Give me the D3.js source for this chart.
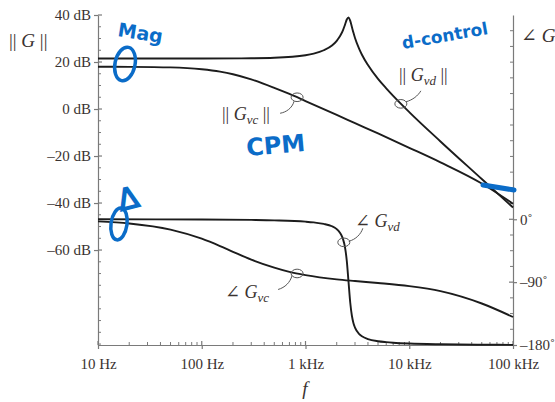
<!DOCTYPE html>
<html><head><meta charset="utf-8">
<script src="https://cdn.jsdelivr.net/npm/d3@7"></script>
<style>
body{margin:0;background:#fff}
svg{display:block}
text{font-family:"Liberation Serif","DejaVu Serif",serif;fill:#3a3230}
.hand{font-family:"DejaVu Sans",sans-serif;font-weight:bold;fill:#0b6cc8}
</style></head><body>
<svg id="c" width="555" height="402"></svg>
<script>
// ---- tick labels ----
const freqTicks = [10, 100, 1000, 10000, 100000];
const freqTickLabels = ["10 Hz", "100 Hz", "1 kHz", "10 kHz", "100 kHz"];
const magTicks = [40, 20, 0, -20, -40, -60];
const magTickLabels = ["40 dB", "20 dB", "0 dB", "–20 dB", "–40 dB", "–60 dB"];
const phaseTicks = [0, -90, -180];
const phaseTickLabels = ["0˚", "–90˚", "–180˚"];

// ---- ||Gvd|| and ∠Gvd (duty-cycle control) ----
const freqVd = [10, 100, 300, 500, 1000, 1200, 1500, 1800, 2000, 2100, 2200, 2300, 2400, 2500, 2600, 2700, 2800, 2900, 3000, 3300, 3500, 4000, 5000, 6000, 7000, 10000, 20000, 50000, 100000];
const magVd = [21.5, 21.5, 21.6, 21.8, 22.9, 23.6, 25.0, 27.0, 29.0, 30.3, 31.8, 33.6, 35.8, 38.1, 39.0, 37.5, 34.9, 32.4, 30.2, 25.5, 23.1, 18.7, 12.8, 8.8, 5.6, -1.3, -13.8, -29.8, -41.9];
const phaseVd = [0, -0.3, -0.9, -1.5, -3.4, -4.5, -6.6, -10.0, -14.1, -17.2, -21.7, -28.5, -39.7, -59.5, -90, -119.5, -138.1, -148.7, -155.1, -164.5, -167.5, -171.5, -174.6, -175.9, -176.7, -177.9, -179.0, -179.6, -179.8];

// ---- ||Gvc|| and ∠Gvc (current-programmed mode) ----
const freqVc = [10, 20, 50, 100, 150, 200, 300, 500, 700, 1000, 2000, 3000, 5000, 10000, 20000, 50000, 100000];
const magVc = [18.0, 17.95, 17.7, 16.9, 15.9, 14.8, 12.6, 9.0, 6.4, 3.4, -2.5, -6.0, -10.4, -16.5, -22.7, -31.7, -40.3];
const phaseVc = [-3.0, -6.0, -14.7, -27.8, -38.3, -46.5, -57.7, -69.2, -75.3, -79.9, -86.0, -88.4, -91.2, -95.7, -102.9, -120.6, -139.9];

const svg = d3.select("#c");
const axisCol = "#7a7a7a";
const x = d3.scaleLog().domain([10, 100000]).range([98, 513]);
const yMag = d3.scaleLinear().domain([-100.4, 40]).range([345, 15]);
const yPh = d3.scaleLinear().domain([-180, 292.5]).range([345, 15]);

function styleAxis(g){
  g.attr("font-size", null).attr("font-family", null);
  g.selectAll(".domain").attr("stroke", axisCol).attr("stroke-width", 1.2);
  g.selectAll(".tick line").attr("stroke", axisCol).attr("stroke-width", 1.2);
  g.selectAll(".tick text").attr("fill", "#3a3230")
    .style("font-family", '"Liberation Serif","DejaVu Serif",serif').style("font-size", "15px");
}

// bottom axis
const gx = svg.append("g").attr("transform", "translate(0,345)")
  .call(d3.axisBottom(x).tickValues(freqTicks).tickFormat((d, i) => freqTickLabels[i]).tickSize(4).tickSizeOuter(0).tickPadding(9));
styleAxis(gx);
const minorF = [];
freqTicks.slice(0, -1).forEach(d => { for (let k = 2; k <= 9; k++) minorF.push(d * k); });
svg.append("g").selectAll("line").data(minorF).join("line")
  .attr("x1", d => x(d)).attr("x2", d => x(d)).attr("y1", 345).attr("y2", 342)
  .attr("stroke", axisCol).attr("stroke-width", 1);
svg.append("g").selectAll("line").data(freqTicks).join("line")
  .attr("x1", d => x(d)).attr("x2", d => x(d)).attr("y1", 345).attr("y2", 341)
  .attr("stroke", axisCol).attr("stroke-width", 1.2);

// left axis
const gy = svg.append("g").attr("transform", "translate(98,0)")
  .call(d3.axisLeft(yMag).tickValues(magTicks).tickFormat((d, i) => magTickLabels[i]).tickSize(4).tickSizeOuter(0).tickPadding(3));
styleAxis(gy);
const minorM = d3.range(-100, 41, 5).filter(v => !magTicks.includes(v));
svg.append("g").selectAll("line").data(minorM).join("line")
  .attr("x1", 98).attr("x2", 101).attr("y1", d => yMag(d)).attr("y2", d => yMag(d))
  .attr("stroke", axisCol).attr("stroke-width", 1);
svg.append("g").selectAll("line").data(magTicks).join("line")
  .attr("x1", 98).attr("x2", 102).attr("y1", d => yMag(d)).attr("y2", d => yMag(d))
  .attr("stroke", axisCol).attr("stroke-width", 1.2);

// right axis
const gr = svg.append("g").attr("transform", "translate(513,0)")
  .call(d3.axisRight(yPh).tickValues(phaseTicks).tickFormat((d, i) => phaseTickLabels[i]).tickSize(4).tickSizeOuter(0).tickPadding(3));
styleAxis(gr);
const minorP = d3.range(-180, 271, 22.5).filter(v => !phaseTicks.includes(v));
svg.append("g").selectAll("line").data(minorP).join("line")
  .attr("x1", 513).attr("x2", 510).attr("y1", d => yPh(d)).attr("y2", d => yPh(d))
  .attr("stroke", axisCol).attr("stroke-width", 1);
svg.append("g").selectAll("line").data(phaseTicks).join("line")
  .attr("x1", 513).attr("x2", 509).attr("y1", d => yPh(d)).attr("y2", d => yPh(d))
  .attr("stroke", axisCol).attr("stroke-width", 1.2);

// axis titles
const tl = svg.append("text").attr("x", 9).attr("y", 47).style("font-size", "19px");
tl.append("tspan").text("|| ");
tl.append("tspan").style("font-style", "italic").text("G");
tl.append("tspan").text(" ||");
const tr = svg.append("text").attr("x", 521).attr("y", 42).style("font-size", "19px");
tr.append("tspan").text("∠ ");
tr.append("tspan").style("font-style", "italic").text("G");
svg.append("text").attr("x", 305).attr("y", 395).attr("text-anchor", "middle")
  .style("font-size", "19px").style("font-style", "italic").text("f");

// curves
function curve(fs, vs, yS){
  const pts = fs.map((f, i) => [x(f), yS(vs[i])]);
  svg.append("path").attr("d", d3.line().curve(d3.curveMonotoneX)(pts))
    .attr("fill", "none").attr("stroke", "#1c1c1c").attr("stroke-width", 1.9);
}
curve(freqVd, magVd, yMag);
curve(freqVc, magVc, yMag);
curve(freqVd, phaseVd, yPh);
curve(freqVc, phaseVc, yPh);

// labels with circles and leaders
function marker(cx, cy){
  svg.append("ellipse").attr("cx", cx).attr("cy", cy).attr("rx", 6).attr("ry", 4.3)
    .attr("fill", "none").attr("stroke", "#555").attr("stroke-width", 1);
}
function leader(d){
  svg.append("path").attr("d", d).attr("fill", "none").attr("stroke", "#555").attr("stroke-width", 1);
}
function subLabel(xp, yp, pre, sub, post){
  const t = svg.append("text").attr("x", xp).attr("y", yp).style("font-size", "18px");
  t.append("tspan").text(pre);
  t.append("tspan").style("font-style", "italic").text("G");
  t.append("tspan").style("font-style", "italic").style("font-size", "13px").attr("dy", 4).text(sub);
  if (post) t.append("tspan").attr("dy", -4).text(post);
}
// ||Gvd||
const fA = 8300, fB = 830, fC = 2340, fD = 830;
marker(x(fA), yMag(2.2));
leader(`M${x(fA)+5},${yMag(2.2)-2} C${x(fA)+12},${yMag(2.2)-4} ${x(fA)+17},${yMag(2.2)-8} ${x(fA)+20},${yMag(2.2)-13}`);
subLabel(399, 81, "|| ", "vd", " ||");
// ||Gvc||
marker(x(fB), yMag(5.0));
leader(`M${x(fB)-3},${yMag(5.0)+4} C${x(fB)-5},${yMag(5.0)+11} ${x(fB)-11},${yMag(5.0)+15} ${x(fB)-17},${yMag(5.0)+16}`);
subLabel(222, 120, "|| ", "vc", " ||");
// ∠Gvd
marker(x(fC), yPh(-33));
leader(`M${x(fC)+5},${yPh(-33)-1} C${x(fC)+12},${yPh(-33)-3} ${x(fC)+17},${yPh(-33)-8} ${x(fC)+19},${yPh(-33)-14}`);
subLabel(355, 227, "∠ ", "vd", null);
// ∠Gvc
marker(x(fD), yPh(-77.6));
leader(`M${x(fD)-5},${yPh(-77.6)+2} C${x(fD)-7},${yPh(-77.6)+9} ${x(fD)-12},${yPh(-77.6)+14} ${x(fD)-19},${yPh(-77.6)+16}`);
subLabel(225, 298, "∠ ", "vc", null);

// blue hand annotations
const blue = "#0b6cc8";
svg.append("text").attr("class", "hand").attr("transform", "translate(117,36) rotate(9)").style("font-size", "19px").text("Mag");
svg.append("text").attr("class", "hand").attr("transform", "translate(403,49) rotate(-10)").style("font-size", "17px").text("d-control");
svg.append("text").attr("class", "hand").attr("transform", "translate(247,156) rotate(-5)").style("font-size", "24px").text("CPM");
svg.append("text").attr("class", "hand").attr("transform", "translate(120,212) rotate(-14)").style("font-size", "32px").text("∆");
svg.append("ellipse").attr("cx", 125).attr("cy", 64).attr("rx", 10).attr("ry", 17)
  .attr("transform", "rotate(12,125,64)").attr("fill", "none").attr("stroke", blue).attr("stroke-width", 3.5);
svg.append("ellipse").attr("cx", 119).attr("cy", 224).attr("rx", 8).attr("ry", 16)
  .attr("transform", "rotate(8,119,224)").attr("fill", "none").attr("stroke", blue).attr("stroke-width", 3.5);
svg.append("path").attr("d", "M483,185 L514,190").attr("stroke", blue).attr("stroke-width", 5).attr("stroke-linecap", "round");
</script>
</body></html>
